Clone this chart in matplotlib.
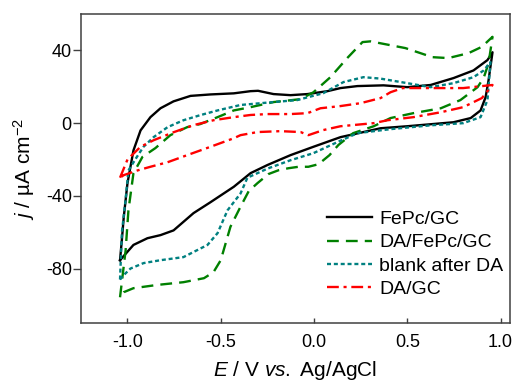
import matplotlib
matplotlib.use("Agg")
import matplotlib.pyplot as plt

plt.rcParams['font.family'] = ['Liberation Sans', 'DejaVu Sans']
plt.rcParams['mathtext.fontset'] = 'custom'
plt.rcParams['mathtext.rm'] = 'Liberation Sans'
plt.rcParams['mathtext.it'] = 'Liberation Sans:italic'
plt.rcParams['mathtext.default'] = 'regular'
plt.rcParams['axes.unicode_minus'] = False

labels = ["FePc/GC", "DA/FePc/GC", "blank after DA", "DA/GC"]

fepc_E = [-1.04, -1.03, -1.02, -1.00, -0.968, -0.93, -0.877, -0.823, -0.753, -0.662, -0.555, -0.43, -0.34,
          -0.30, -0.217, -0.126, -0.035, 0.072, 0.142, 0.233, 0.373, 0.5, 0.625, 0.748, 0.855, 0.93, 0.957,
          0.936, 0.92, 0.893, 0.84, 0.748, 0.625, 0.5, 0.357, 0.287, 0.142, -0.003, -0.126, -0.249, -0.34,
          -0.43, -0.555, -0.646, -0.753, -0.823, -0.893, -0.968, -1.04]
fepc_j = [-75.4, -64, -51.7, -33, -15, -4, 3.3, 8.2, 12, 15, 15.8, 16.4, 17.6,
          17.8, 16, 15.4, 16, 17.6, 19.3, 20.4, 20.8, 19.8, 21, 24.8, 29, 34.7, 39,
          23.7, 14.3, 7, 2.8, 0.5, -0.6, -1.7, -2.8, -4.4, -7.7, -13, -17.6, -23, -27.5,
          -35, -43.5, -49.5, -59, -61.6, -63.3, -67, -75.4]

dafepc_E = [-1.04, -1.01, -0.995, -0.968, -0.92, -0.85, -0.77, -0.68, -0.61, -0.517, -0.43, -0.34, -0.217,
            -0.072, -0.003, 0.088, 0.18, 0.26, 0.303, 0.49, 0.635, 0.72, 0.828, 0.9, 0.957,
            0.936, 0.91, 0.877, 0.785, 0.68, 0.533, 0.41, 0.32, 0.21, 0.131, 0.083, 0.024, -0.03, -0.083,
            -0.137, -0.19, -0.244, -0.303, -0.35, -0.394, -0.448, -0.5, -0.539, -0.59, -0.7, -0.84,
            -0.968, -1.02, -1.04]
dafepc_j = [-95.8, -70, -48, -27.5, -18.6, -13.7, -6.6, -2.2, -0.5, 3.3, 7, 8.8, 11.6,
            13.2, 17, 25.3, 36, 44.6, 45, 41.3, 36.3, 35.8, 38.5, 42, 47.5,
            33, 25, 19.8, 12.7, 8.2, 5.5, 2.8, -1.7, -5.5, -12, -17.6, -22.6, -24, -24,
            -24.8, -25.9, -28, -33, -37.4, -46, -57, -75.4, -82, -85.3, -87.5, -89,
            -90.8, -93, -95.8]

blank_E = [-1.04, -1.03, -1.01, -0.995, -0.946, -0.914, -0.86, -0.785, -0.7, -0.61, -0.517, -0.394, -0.217,
           -0.09, 0.05, 0.158, 0.265, 0.357, 0.5, 0.625, 0.748, 0.855, 0.91, 0.946,
           0.93, 0.893, 0.8, 0.625, 0.41, 0.233, 0.126, -0.003, -0.126, -0.249, -0.357, -0.394,
           -0.464, -0.517, -0.571, -0.7, -0.823, -0.914, -0.984, -1.02, -1.04]
blank_j = [-86, -60, -42, -26, -18, -13, -7.7, -2.2, 1.6, 4.4, 7, 10, 11.6,
           12.7, 16.5, 22.6, 25.3, 24.5, 22, 19.8, 22, 25.3, 29, 33.6,
           12.7, 3.3, 0, -1.2, -3.3, -5.5, -10.4, -16.5, -20.4, -25, -30, -38.7,
           -48, -60.5, -67, -73.7, -75.4, -77, -80, -83.6, -86]

dagc_E = [-1.04, -1.0, -0.93, -0.86, -0.753, -0.646, -0.539, -0.43, -0.34, -0.249, -0.126, -0.035, 0.035,
          0.142, 0.25, 0.357, 0.41, 0.475, 0.625, 0.8, 0.957,
          0.9, 0.8, 0.68, 0.533, 0.394, 0.32, 0.142, 0.05, -0.03, -0.072, -0.18, -0.303, -0.394,
          -0.43, -0.555, -0.68, -0.785, -0.877, -0.946, -1.02, -1.04]
dagc_j = [-30, -20, -13, -9.4, -5, -1.1, 1.6, 3.3, 4.5, 5, 5, 5.5, 8.2,
          9.4, 11, 13.8, 17, 19.3, 19.3, 19.3, 21,
          13.8, 8.8, 6, 3.3, 1.6, 0, -1.7, -3.8, -6.6, -4.9, -4.4, -4.9, -6.6,
          -8.3, -13, -17.6, -21.5, -24, -26, -28.6, -30]

xticks = [-1.0, -0.5, 0.0, 0.5, 1.0]
yticks = [-80, -40, 0, 40]

fig = plt.figure(figsize=(5.15, 3.81), dpi=100)
ax = fig.add_axes([0.157, 0.152, 0.833, 0.811])

lw = 1.7
ax.plot(fepc_E, fepc_j, color='black', lw=lw, label=labels[0])
ax.plot(dafepc_E, dafepc_j, color='#008000', lw=lw, dashes=(5, 3), label=labels[1])
ax.plot(blank_E, blank_j, color='#008080', lw=lw, dashes=(1.7, 1.2), label=labels[2])
ax.plot(dagc_E, dagc_j, color='#ff0000', lw=lw, dashes=(5, 2, 1.3, 2), label=labels[3])

ax.set_xlim(-1.25, 1.05)
ax.set_ylim(-110, 60)
ax.set_xticks(xticks)
ax.set_yticks(yticks)
ax.set_xticklabels(['%.1f' % v for v in xticks])
ax.set_yticklabels(['%d' % v for v in yticks])

for s in ax.spines.values():
    s.set_color('#404040')
    s.set_linewidth(1.1)

ax.tick_params(axis='x', direction='in', length=3.5, width=1.0, color='#404040', labelsize=13, pad=7.5)
ax.tick_params(axis='y', direction='out', length=5.5, width=1.0, color='#404040', labelsize=13, pad=1)

ax.set_xlabel(r'$\it{E}$ / V $\it{vs.}$ Ag/AgCl', fontsize=15, labelpad=6)
ax.set_ylabel(r'$\it{j}$ / µA cm$^{-2}$', fontsize=15, labelpad=6)

leg = ax.legend(loc='upper left', bbox_to_anchor=(0.573, 0.365), frameon=False, fontsize=14,
                handlelength=2.35, handletextpad=0.35, labelspacing=0.3, borderpad=0, borderaxespad=0)

fig.savefig('out.png', dpi=100)
